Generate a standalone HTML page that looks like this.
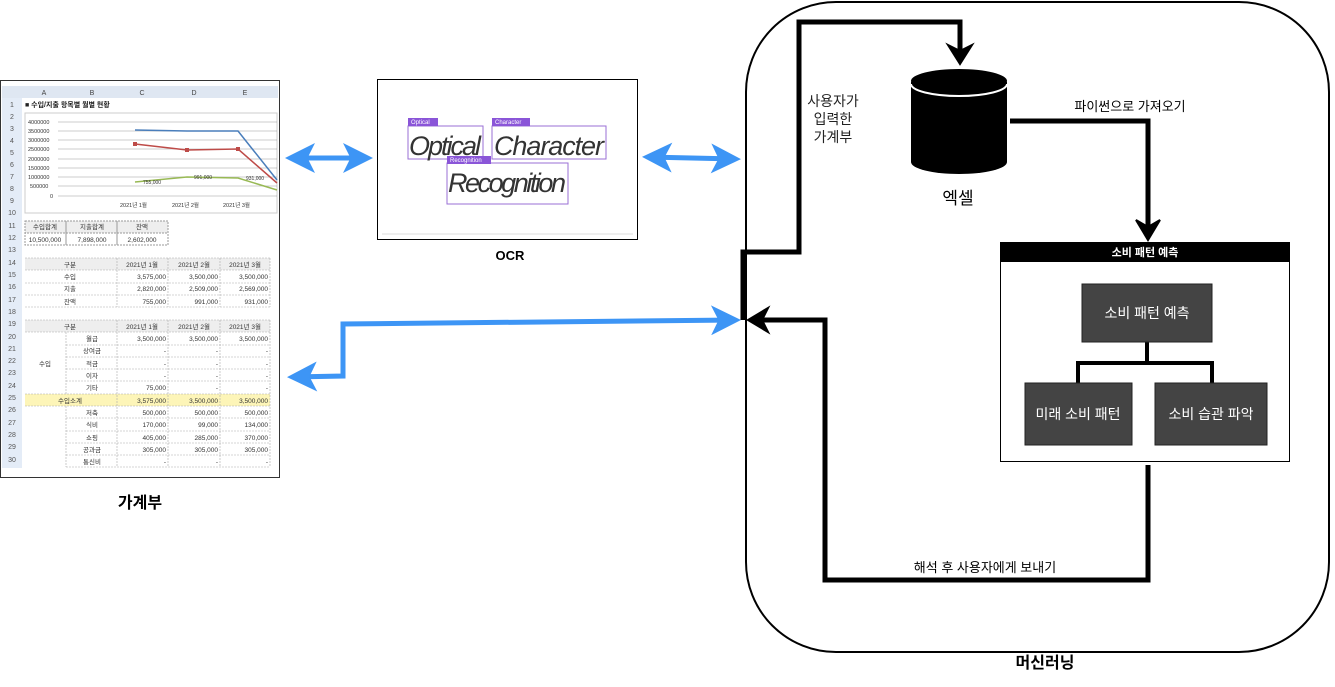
<!DOCTYPE html>
<html><head><meta charset="utf-8"><style>
body{margin:0;background:#fff;width:1335px;height:682px;overflow:hidden;font-family:"Liberation Sans","Noto Sans CJK KR",sans-serif}
svg text{font-family:"Liberation Sans","Noto Sans CJK KR",sans-serif}
</style></head><body>
<svg width="1335" height="682" xmlns="http://www.w3.org/2000/svg">
<defs>
<marker id="bh" markerWidth="6" markerHeight="6" refX="5" refY="3" orient="auto" markerUnits="strokeWidth"><path d="M0,0 L6,3 L0,6 L1.5,3 z" fill="#3d95f5"/></marker>
<marker id="bt" markerWidth="6" markerHeight="6" refX="1" refY="3" orient="auto" markerUnits="strokeWidth"><path d="M6,0 L0,3 L6,6 L4.5,3 z" fill="#3d95f5"/></marker>
</defs>
<!-- spreadsheet -->
<rect x="0.5" y="80.5" width="279" height="397" fill="#fff" stroke="#333"/>
<rect x="2" y="86" width="276" height="12" fill="#dfe7f2"/>
<rect x="2" y="98" width="20" height="370" fill="#e4ecf7"/>
<g font-size="7" fill="#444" text-anchor="middle">
<text x="44" y="95">A</text><text x="92" y="95">B</text><text x="142" y="95">C</text><text x="194" y="95">D</text><text x="245" y="95">E</text>
</g>
<g font-size="7" fill="#555" text-anchor="middle" id="rn"></g>
<g font-size="7" fill="#555" text-anchor="middle">
<text x="12" y="107">1</text><text x="12" y="119">2</text><text x="12" y="131">3</text><text x="12" y="143">4</text><text x="12" y="155">5</text><text x="12" y="167">6</text><text x="12" y="179">7</text><text x="12" y="191">8</text><text x="12" y="203">9</text><text x="12" y="215">10</text><text x="12" y="228">11</text><text x="12" y="240">12</text><text x="12" y="252">13</text><text x="12" y="265">14</text><text x="12" y="277">15</text><text x="12" y="289">16</text><text x="12" y="302">17</text><text x="12" y="314">18</text><text x="12" y="326">19</text><text x="12" y="339">20</text><text x="12" y="351">21</text><text x="12" y="363">22</text><text x="12" y="375">23</text><text x="12" y="388">24</text><text x="12" y="400">25</text><text x="12" y="412">26</text><text x="12" y="425">27</text><text x="12" y="437">28</text><text x="12" y="449">29</text><text x="12" y="462">30</text>
</g>
<text x="25" y="107" font-size="7" font-weight="bold" fill="#222">■ 수입/지출 항목별 월별 현황</text>
<rect x="25" y="113" width="252" height="100" fill="#fff" stroke="#ccc"/>
<g stroke="#999" stroke-width="0.5"><line x1="58" y1="122" x2="277" y2="122"/><line x1="58" y1="131" x2="277" y2="131"/><line x1="58" y1="140" x2="277" y2="140"/><line x1="58" y1="149" x2="277" y2="149"/><line x1="58" y1="159" x2="277" y2="159"/><line x1="58" y1="168" x2="277" y2="168"/><line x1="58" y1="177" x2="277" y2="177"/><line x1="58" y1="186" x2="277" y2="186"/><line x1="58" y1="196" x2="277" y2="196"/></g>
<g font-size="5.5" fill="#333"><text x="28" y="124">4000000</text><text x="28" y="133">3500000</text><text x="28" y="142">3000000</text><text x="28" y="151">2500000</text><text x="28" y="161">2000000</text><text x="28" y="170">1500000</text><text x="28" y="179">1000000</text><text x="30" y="188">500000</text><text x="50" y="198">0</text>
<text x="120" y="207">2021년 1월</text><text x="172" y="207">2021년 2월</text><text x="223" y="207">2021년 3월</text></g>
<polyline points="135,130 187,131 238,131 277,180" fill="none" stroke="#4a7ebb" stroke-width="1.5"/>
<polyline points="135,144 187,150 238,149 277,183" fill="none" stroke="#be4b48" stroke-width="1.5"/>
<polyline points="135,182 187,177 238,178 277,190" fill="none" stroke="#98b954" stroke-width="1.5"/>
<g fill="#be4b48"><rect x="133" y="142" width="4" height="4"/><rect x="185" y="148" width="4" height="4"/><rect x="236" y="147" width="4" height="4"/></g>
<g font-size="5" fill="#333"><text x="143" y="184">755,000</text><text x="194" y="179">991,000</text><text x="246" y="180">931,000</text></g>
<g font-size="6.5" fill="#333" text-anchor="middle">
<rect x="25" y="221" width="143" height="24" fill="none" stroke="#999" stroke-dasharray="2,1"/>
<rect x="25" y="221" width="143" height="12" fill="#eee" stroke="#999" stroke-dasharray="2,1"/>
<line x1="66" y1="221" x2="66" y2="245" stroke="#999"/><line x1="117" y1="221" x2="117" y2="245" stroke="#999"/>
<text x="45" y="229">수입합계</text><text x="92" y="229">지출합계</text><text x="142" y="229">잔액</text>
<text x="45" y="242">10,500,000</text><text x="92" y="242">7,898,000</text><text x="142" y="242">2,602,000</text>
</g>
<g font-size="6.5" fill="#333">
<rect x="25" y="258" width="245" height="12" fill="#eee"/>
<rect x="25" y="320" width="245" height="12" fill="#eee"/>
<rect x="25" y="394" width="245" height="12" fill="#fdf5b8"/>
<g stroke="#aaa" stroke-width="0.6" stroke-dasharray="2,1">
<line x1="25" y1="258" x2="270" y2="258"/><line x1="25" y1="270" x2="270" y2="270"/><line x1="25" y1="283" x2="270" y2="283"/><line x1="25" y1="295" x2="270" y2="295"/><line x1="25" y1="307" x2="270" y2="307"/>
<line x1="25" y1="320" x2="270" y2="320"/><line x1="25" y1="332" x2="270" y2="332"/><line x1="66" y1="345" x2="270" y2="345"/><line x1="66" y1="357" x2="270" y2="357"/><line x1="66" y1="369" x2="270" y2="369"/><line x1="66" y1="381" x2="270" y2="381"/><line x1="25" y1="394" x2="270" y2="394"/><line x1="25" y1="406" x2="270" y2="406"/><line x1="66" y1="418" x2="270" y2="418"/><line x1="66" y1="431" x2="270" y2="431"/><line x1="66" y1="443" x2="270" y2="443"/><line x1="66" y1="455" x2="270" y2="455"/><line x1="66" y1="467" x2="270" y2="467"/>
<line x1="117" y1="258" x2="117" y2="307"/><line x1="168" y1="258" x2="168" y2="307"/><line x1="220" y1="258" x2="220" y2="307"/><line x1="270" y1="258" x2="270" y2="307"/>
<line x1="66" y1="332" x2="66" y2="394"/><line x1="66" y1="406" x2="66" y2="467"/><line x1="117" y1="320" x2="117" y2="467"/><line x1="168" y1="320" x2="168" y2="467"/><line x1="220" y1="320" x2="220" y2="467"/><line x1="270" y1="320" x2="270" y2="467"/>
</g>
<g text-anchor="middle"><text x="70" y="267">구분</text><text x="70" y="279">수입</text><text x="70" y="291">지출</text><text x="70" y="304">잔액</text>
<text x="70" y="329">구분</text><text x="45" y="366">수입</text><text x="70" y="403">수입소계</text>
<text x="92" y="341">월급</text><text x="92" y="353">상여금</text><text x="92" y="366">적금</text><text x="92" y="378">이자</text><text x="92" y="390">기타</text>
<text x="92" y="415">저축</text><text x="92" y="427">식비</text><text x="92" y="440">쇼핑</text><text x="92" y="452">공과금</text><text x="92" y="464">통신비</text>
<text x="142" y="267">2021년 1월</text><text x="194" y="267">2021년 2월</text><text x="245" y="267">2021년 3월</text>
<text x="142" y="329">2021년 1월</text><text x="194" y="329">2021년 2월</text><text x="245" y="329">2021년 3월</text></g>
<g text-anchor="end">
<text x="166" y="279">3,575,000</text><text x="218" y="279">3,500,000</text><text x="268" y="279">3,500,000</text>
<text x="166" y="291">2,820,000</text><text x="218" y="291">2,509,000</text><text x="268" y="291">2,569,000</text>
<text x="166" y="304">755,000</text><text x="218" y="304">991,000</text><text x="268" y="304">931,000</text>
<text x="166" y="341">3,500,000</text><text x="218" y="341">3,500,000</text><text x="268" y="341">3,500,000</text>
<text x="166" y="353">-</text><text x="218" y="353">-</text><text x="268" y="353">-</text>
<text x="166" y="366">-</text><text x="218" y="366">-</text><text x="268" y="366">-</text>
<text x="166" y="378">-</text><text x="218" y="378">-</text><text x="268" y="378">-</text>
<text x="166" y="390">75,000</text><text x="218" y="390">-</text><text x="268" y="390">-</text>
<text x="166" y="403">3,575,000</text><text x="218" y="403">3,500,000</text><text x="268" y="403">3,500,000</text>
<text x="166" y="415">500,000</text><text x="218" y="415">500,000</text><text x="268" y="415">500,000</text>
<text x="166" y="427">170,000</text><text x="218" y="427">99,000</text><text x="268" y="427">134,000</text>
<text x="166" y="440">405,000</text><text x="218" y="440">285,000</text><text x="268" y="440">370,000</text>
<text x="166" y="452">305,000</text><text x="218" y="452">305,000</text><text x="268" y="452">305,000</text>
<text x="166" y="464">-</text><text x="218" y="464">-</text><text x="268" y="464">-</text>
</g></g>
<text x="140" y="508" font-size="16" font-weight="bold" text-anchor="middle" fill="#000">가계부</text>

<!-- OCR -->
<rect x="377.5" y="79.5" width="260" height="160" fill="#fff" stroke="#000"/>
<line x1="382" y1="234" x2="633" y2="234" stroke="#ddd"/>
<g fill="none" stroke="#9a6fd6" stroke-width="1"><rect x="408" y="126" width="75" height="33"/><rect x="492" y="126" width="114" height="33"/><rect x="447" y="163" width="121" height="41"/></g>
<g fill="#8a55d8"><rect x="408" y="118" width="30" height="8"/><rect x="492" y="118" width="38" height="8"/><rect x="447" y="156" width="44" height="8"/></g>
<g font-size="6" fill="#fff"><text x="411" y="124">Optical</text><text x="495" y="124">Character</text><text x="450" y="162">Recognition</text></g>
<g font-family="'DejaVu Sans',sans-serif" font-size="27" fill="#333" font-style="italic"><text x="409" y="155" textLength="72">Optical</text><text x="494" y="155" textLength="110">Character</text><text x="448" y="192" textLength="118">Recognition</text></g>
<text x="510" y="260" font-size="13" font-weight="bold" text-anchor="middle">OCR</text>

<!-- blue arrows -->
<g stroke="#3d95f5" stroke-width="5" fill="none">
<line x1="290" y1="158" x2="368" y2="158" marker-end="url(#bh)" marker-start="url(#bt)"/>
<line x1="647" y1="157" x2="736" y2="159" marker-end="url(#bh)" marker-start="url(#bt)"/>
<polyline points="736,320 343,324 343,376 292,377" marker-end="url(#bh)" marker-start="url(#bt)"/>
</g>

<!-- ML container -->
<rect x="746" y="2" width="583" height="650" rx="90" ry="90" fill="none" stroke="#000" stroke-width="2"/>
<text x="1045" y="668" font-size="16" font-weight="bold" text-anchor="middle">머신러닝</text>
<g stroke="#000" stroke-width="5" fill="none">
<polyline points="743,320 743,252 799,252 799,22 960,22 960,52"/>
<polyline points="1148,465 1148,580 825,580 825,320 762,320"/>
<polyline points="1010,121 1148,121 1148,228"/>
</g>
<path d="M948,45 L960,64 L972,45 L960,51z" fill="#000" stroke="#000" stroke-width="2"/>
<path d="M1136,220 L1148,240 L1160,220 L1148,227z" fill="#000" stroke="#000" stroke-width="2"/>
<path d="M768,308 L748,320 L768,332 L762,320z" fill="#000" stroke="#000" stroke-width="2"/>
<g font-size="14" fill="#222" text-anchor="middle"><text x="833" y="106">사용자가</text><text x="833" y="124">입력한</text><text x="833" y="142">가계부</text></g>
<text x="1130" y="111" font-size="13" text-anchor="middle">파이썬으로 가져오기</text>
<text x="985" y="572" font-size="13" text-anchor="middle">해석 후 사용자에게 보내기</text>
<!-- cylinder -->
<path d="M911,82 L911,162 A48,12 0 0 0 1007,162 L1007,82 z" fill="#000"/>
<ellipse cx="959" cy="81" rx="48" ry="12" fill="#000"/>
<path d="M911,84 A48,12 0 0 0 1007,84" fill="none" stroke="#fff" stroke-width="2"/>
<text x="958" y="204" font-size="17" text-anchor="middle">엑셀</text>
<!-- prediction box -->
<rect x="1000.5" y="242.5" width="289" height="219" fill="#fff" stroke="#000"/>
<rect x="1000" y="242" width="290" height="20" fill="#000"/>
<text x="1145" y="256" font-size="11" font-weight="bold" fill="#fff" text-anchor="middle">소비 패턴 예측</text>
<g stroke="#000" stroke-width="4" fill="none"><polyline points="1147,342 1147,363 1078,363 1078,383"/><polyline points="1147,363 1212,363 1212,383"/></g>
<rect x="1082" y="284" width="130" height="58" fill="#444" stroke="#222"/>
<rect x="1025" y="383" width="107" height="62" fill="#444" stroke="#222"/>
<rect x="1155" y="383" width="112" height="62" fill="#444" stroke="#222"/>
<g font-size="14" fill="#fff" text-anchor="middle"><text x="1147" y="318">소비 패턴 예측</text><text x="1078" y="419">미래 소비 패턴</text><text x="1211" y="419">소비 습관 파악</text></g>
</svg>
</body></html>
